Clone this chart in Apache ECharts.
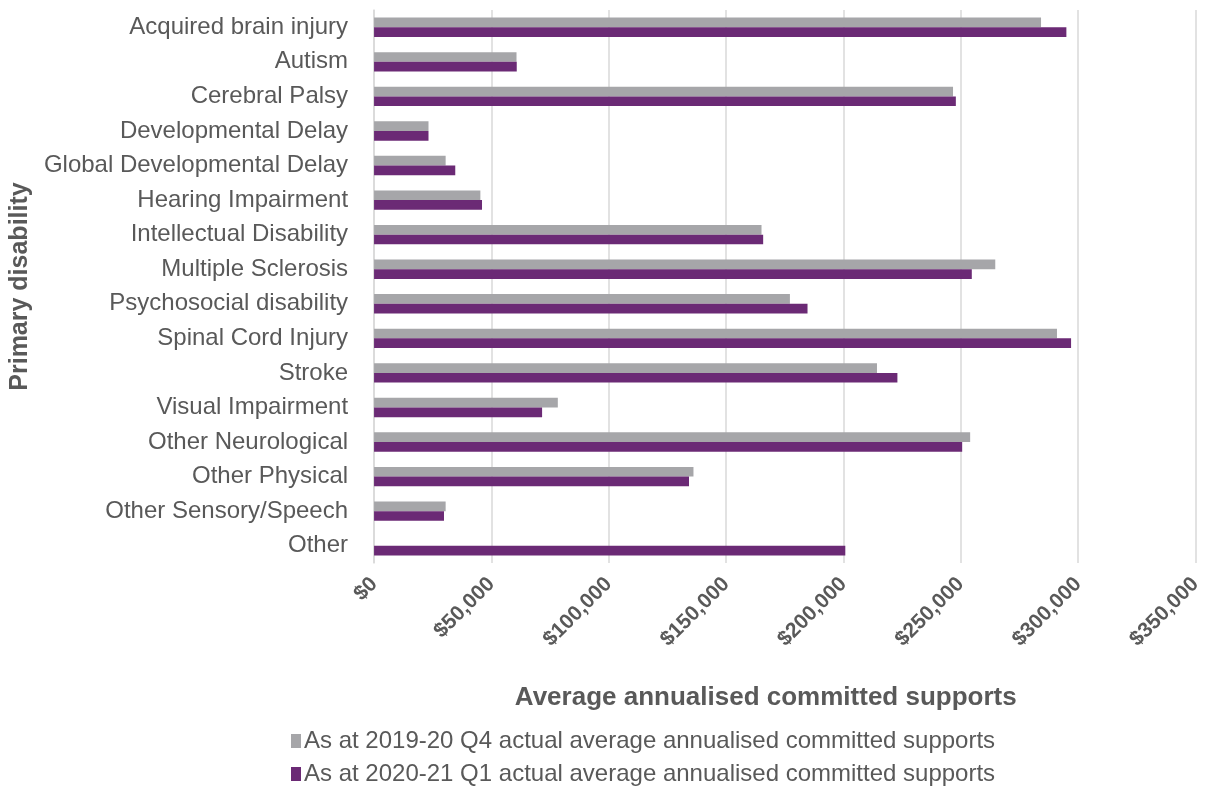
<!DOCTYPE html>
<html>
<head>
<meta charset="utf-8">
<script src="https://cdn.jsdelivr.net/npm/echarts@6/dist/echarts.min.js"></script>
<style>
  html, body { margin: 0; padding: 0; background: #fff; }
  #chart { width: 1205px; height: 786px; }
</style>
</head>
<body>
<div id="chart"></div>
<script>
'use strict';

var categories = [
  'Acquired brain injury', 'Autism', 'Cerebral Palsy', 'Developmental Delay',
  'Global Developmental Delay', 'Hearing Impairment', 'Intellectual Disability',
  'Multiple Sclerosis', 'Psychosocial disability', 'Spinal Cord Injury', 'Stroke',
  'Visual Impairment', 'Other Neurological', 'Other Physical',
  'Other Sensory/Speech', 'Other'
];
var q4Values = [
  284200, 60700, 246700, 23200, 30500, 45300, 165100, 264700,
  177200, 291000, 214300, 78300, 254000, 136100, 30500, null
];
var q1Values = [
  295000, 60800, 247900, 23200, 34600, 46000, 165800, 254700,
  184700, 297000, 223000, 71600, 250600, 134200, 29800, 200800
];
var seriesNames = [
  'As at 2019-20 Q4 actual average annualised committed supports',
  'As at 2020-21 Q1 actual average annualised committed supports'
];

var textColor = '#595959';
var font = '"Liberation Sans", Arial, sans-serif';

var chart = echarts.init(document.getElementById('chart'));

function money(v) {
  return '$' + v.toString().replace(/\B(?=(\d{3})+(?!\d))/g, ',');
}

function legendRow(name, top) {
  return {
    left: 286,
    top: top,
    itemWidth: 10,
    itemHeight: 14,
    itemGap: 4,
    icon: 'rect',
    textStyle: { color: textColor, fontSize: 24, fontFamily: font, padding: [0, 0, 0, -2] },
    data: [name]
  };
}

var option = {
  animation: false,
  textStyle: { fontFamily: font },
  color: ['#a6a6a9', '#6b2a75'],
  grid: { left: 373, right: 3, top: 10, bottom: 223 },
  legend: [
    legendRow(seriesNames[0], 724),
    legendRow(seriesNames[1], 757)
  ],
  xAxis: {
    type: 'value',
    min: 0,
    max: 350000,
    interval: 50000,
    name: 'Average annualised committed supports',
    nameLocation: 'middle',
    nameGap: 122,
    nameTextStyle: {
      color: textColor, fontSize: 26, fontWeight: 'bold', fontFamily: font,
      padding: [0, 38, 0, 0]
    },
    axisLine: { show: false },
    axisTick: { show: false },
    splitLine: { lineStyle: { color: '#d9d9d9', width: 1.5 } },
    axisLabel: {
      rotate: 45,
      margin: 18,
      color: textColor,
      fontSize: 21,
      fontWeight: 'bold',
      fontFamily: font,
      formatter: money
    }
  },
  yAxis: {
    type: 'category',
    inverse: true,
    data: categories,
    name: 'Primary disability',
    nameLocation: 'middle',
    nameRotate: 90,
    nameGap: 334,
    nameTextStyle: { color: textColor, fontSize: 25, fontWeight: 'bold', fontFamily: font },
    axisLine: { show: true, lineStyle: { color: '#d9d9d9', width: 1.5 } },
    axisTick: { show: false },
    axisLabel: { color: textColor, fontSize: 24, margin: 26, fontFamily: font }
  },
  series: [
    {
      name: seriesNames[0],
      type: 'bar',
      data: q4Values,
      barWidth: '28%',
      barGap: '0%'
    },
    {
      name: seriesNames[1],
      type: 'bar',
      data: q1Values,
      barWidth: '28%',
      barGap: '0%'
    }
  ]
};

chart.setOption(option);
</script>
</body>
</html>
